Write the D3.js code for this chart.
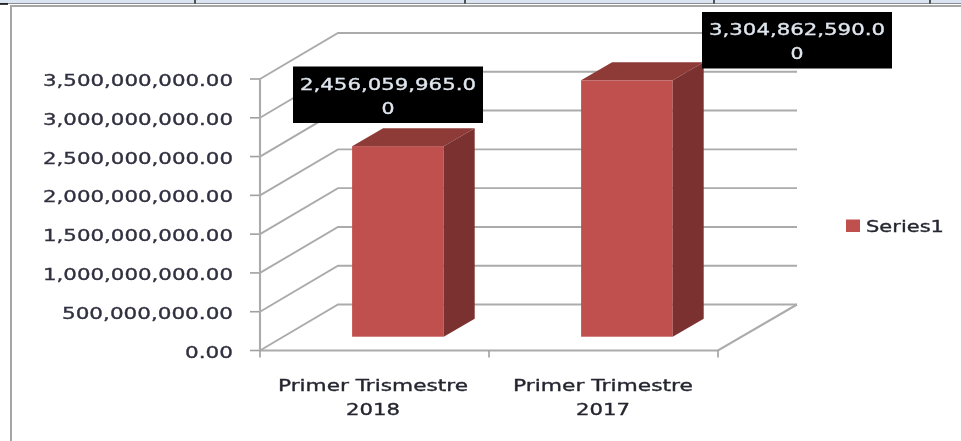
<!DOCTYPE html>
<html>
<head>
<meta charset="utf-8">
<script src="https://cdn.jsdelivr.net/npm/d3@7"></script>
<style>
html, body { margin: 0; padding: 0; background: #fff; overflow: hidden; }
text { font-family: "DejaVu Sans", sans-serif; }
</style>
</head>
<body>
<script>
// data
var categories = ["Primer Trismestre 2018", "Primer Trimestre 2017"]
var categoryLines = [["Primer Trismestre", "2018"], ["Primer Trimestre", "2017"]]
var values = [2456059965, 3304862590]
var valueLabels = [["2,456,059,965.0", "0"], ["3,304,862,590.0", "0"]]
var tickValues = [0, 500000000, 1000000000, 1500000000, 2000000000, 2500000000, 3000000000, 3500000000]
var seriesName = "Series1"

const width = 961
const height = 441

// depth of the fake 3d box
const depthX = 78
const depthY = -46

var x = d3.scaleBand()
	.domain(categories)
	.range([260, 718])
	.paddingInner(0.6)
	.paddingOuter(0.3)

var y = d3.scaleLinear()
	.domain([0, 3500000000])
	.range([350.5, 79])

var svg = d3.select("body").append("svg")
	.attr("width", width)
	.attr("height", height)
	.style("display", "block")

// sheet behind the chart (strip at the top of the screenshot)
svg.append("rect").attr("width", width).attr("height", 3.5).attr("fill", "#dbe5f1")
svg.append("line").attr("x1", 0).attr("x2", width).attr("y1", 3.5).attr("y2", 3.5)
	.attr("stroke", "#8a8f96").attr("stroke-width", 1)
svg.append("line").attr("x1", 0).attr("x2", 8).attr("y1", 4).attr("y2", 4)
	.attr("stroke", "#000").attr("stroke-width", 1.5)
svg.selectAll(".cell").data([195, 465, 714, 930]).enter().append("line")
	.attr("x1", d => d).attr("x2", d => d).attr("y1", 0).attr("y2", 3.5)
	.attr("stroke", "#222").attr("stroke-width", 1.5)

// chart frame
svg.append("path")
	.attr("d", "M11,441V6H961")
	.attr("fill", "none").attr("stroke", "#a6a6a6").attr("stroke-width", 2)

var plot = svg.append("g").style("filter", "blur(0.5px)")
var gridColor = "#ababab"

// back wall grid + side wall lines
tickValues.forEach(function(v, i) {
	var yy = y(v)
	plot.append("path")
		.attr("d", "M260," + yy + "L" + (260 + depthX) + "," + (yy + depthY) + "H797")
		.attr("fill", "none").attr("stroke", gridColor).attr("stroke-width", 1.9)
	plot.append("line")
		.attr("x1", 250).attr("x2", 260).attr("y1", yy).attr("y2", yy)
		.attr("stroke", "#a0a0a0").attr("stroke-width", 1.6)
})

// floor and axes
plot.append("path")
	.attr("d", "M260," + y(3500000000) + "V" + y(0) + "H718L797," + (y(0) + depthY))
	.attr("fill", "none").attr("stroke", gridColor).attr("stroke-width", 2.1)
plot.selectAll(".xtick").data([260, 489, 718]).enter().append("line")
	.attr("x1", d => d).attr("x2", d => d)
	.attr("y1", y(0)).attr("y2", y(0) + 7)
	.attr("stroke", "#a0a0a0").attr("stroke-width", 1.6)

// bars, front plane sits 0.3 back into the floor, 0.39 deep
const shiftX = depthX * 0.3
const shiftY = depthY * 0.3
const barDx = 31
const barDy = -18

categories.forEach(function(c, i) {
	var x0 = x(c) + shiftX
	var x1 = x0 + x.bandwidth()
	var yBase = y(0) + shiftY
	var yTop = y(values[i]) + shiftY
	plot.append("rect")
		.attr("x", x0).attr("y", yTop)
		.attr("width", x.bandwidth()).attr("height", yBase - yTop)
		.attr("fill", "#c0504d")
	plot.append("path")
		.attr("d", d3.line()([[x0, yTop], [x0 + barDx, yTop + barDy], [x1 + barDx, yTop + barDy], [x1, yTop]]))
		.attr("fill", "#8e3b38")
	plot.append("path")
		.attr("d", d3.line()([[x1, yTop], [x1 + barDx, yTop + barDy], [x1 + barDx, yBase + barDy], [x1, yBase]]))
		.attr("fill", "#7a312f")
})

// the source image is stretched sideways, so text gets a fixed length
function wideText(parent, str, xx, yy, len, anchor, color) {
	return parent.append("text")
		.attr("x", xx).attr("y", yy)
		.attr("text-anchor", anchor)
		.attr("font-size", 16.5)
		.attr("textLength", len)
		.attr("lengthAdjust", "spacingAndGlyphs")
		.attr("fill", color)
		.attr("stroke", color)
		.attr("stroke-width", 0.35)
		.text(str)
}

// y tick labels
var tickFormat = d3.format(",.2f")
tickValues.forEach(function(v) {
	var label = tickFormat(v)
	var len = label.length == 16 ? 190 : label.length == 14 ? 171 : 48
	wideText(plot, label, 233, y(v) + 7, len, "end", "#303040")
})

// x labels
categoryLines.forEach(function(lines, i) {
	var cx = [373, 603][i]
	var lens = [[190, 54], [180, 54]][i]
	lines.forEach(function(line, j) {
		wideText(plot, line, cx, 390.5 + j * 24, lens[j], "middle", "#252530")
	})
})

// value labels
var labelBoxes = [[293, 66.5], [702, 12]]
categories.forEach(function(c, i) {
	var bx = labelBoxes[i][0]
	var by = labelBoxes[i][1]
	plot.append("rect")
		.attr("x", bx).attr("y", by)
		.attr("width", 190).attr("height", 56.5)
		.attr("fill", "#000")
	wideText(plot, valueLabels[i][0], bx + 95, by + 23, 176, "middle", "#dfe6ee")
	wideText(plot, valueLabels[i][1], bx + 95, by + 47, 13, "middle", "#dfe6ee")
})

// legend
plot.append("rect")
	.attr("x", 846).attr("y", 219.5)
	.attr("width", 14).attr("height", 12.5)
	.attr("fill", "#c0504d")
wideText(plot, seriesName, 866, 232, 78, "start", "#252530")
</script>
</body>
</html>
